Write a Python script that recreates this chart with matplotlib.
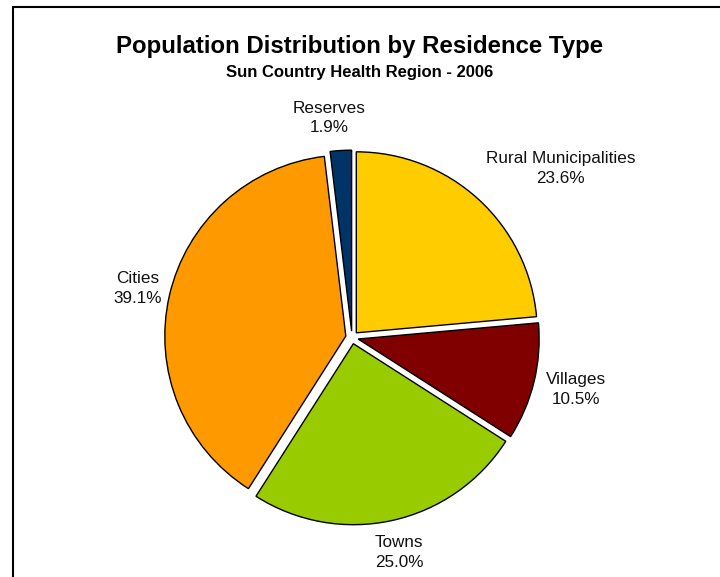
import matplotlib
matplotlib.use("Agg")
import matplotlib.pyplot as plt
from matplotlib.patches import Rectangle
import numpy as np

plt.rcParams['font.family'] = ['Liberation Sans', 'DejaVu Sans']

categories = ["Rural Municipalities", "Villages", "Towns", "Cities", "Reserves"]
values = [23.6, 10.5, 25.0, 39.1, 1.9]
colors = ["#FFCC00", "#800000", "#99CC00", "#FF9900", "#003366"]
title = "Population Distribution by Residence Type"
subtitle = "Sun Country Health Region - 2006"

W, H = 720, 577
fig = plt.figure(figsize=(W / 100, H / 100), dpi=100)
fig.patch.set_facecolor("white")

# frame around chart area (bottom/right extend beyond image)
fig.patches.append(Rectangle((12.5 / W, -0.1), 1.2, (H - 6.5) / H + 0.1,
                             transform=fig.transFigure,
                             fill=False, edgecolor="black", linewidth=1.5))

cx, cy, r = 352, 337.5, 181
half = 1.5 * r
ax = fig.add_axes([(cx - half) / W, (H - cy - half) / H, 2 * half / W, 2 * half / H])

labels = [f"{c}\n{v:.1f}%" for c, v in zip(categories, values)]
wedges, texts = ax.pie(values, colors=colors, startangle=90, counterclock=False,
                       explode=[0.035] * len(values), radius=1.0,
                       labels=labels, labeldistance=1.18,
                       wedgeprops=dict(edgecolor="black", linewidth=1.0),
                       textprops=dict(fontsize=12.3, ha="center", va="center",
                                      linespacing=1.4, color="#111111"))
ax.set_xlim(-1.5, 1.5)
ax.set_ylim(-1.5, 1.5)
ax.set_aspect("equal")
ax.axis("off")

# Excel-style label nudges (pixels)
nudges = [(60, 7), (10, 0), (0, 0), (0, 0), (-10, 0)]
for t, (dx, dy) in zip(texts, nudges):
    t.set_horizontalalignment("center")
    t.set_verticalalignment("center")
    x0, y0 = t.get_position()
    t.set_position((x0 + dx / r, y0 + dy / r))

fig.text(0.5, 1 - 47 / H, title, ha="center", va="center", fontsize=17.3, fontweight="bold")
fig.text(0.5, 1 - 73 / H, subtitle, ha="center", va="center", fontsize=12, fontweight="bold")

fig.savefig("out.png", dpi=100)
